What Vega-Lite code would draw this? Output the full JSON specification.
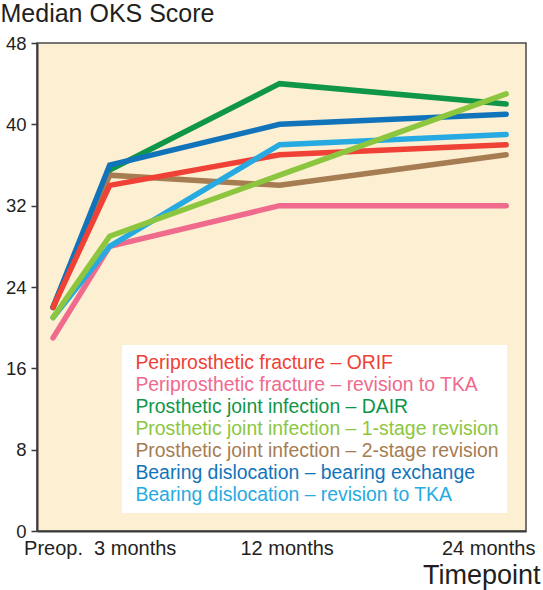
{
  "$schema": "https://vega.github.io/schema/vega-lite/v6.json",
  "width": 489,
  "height": 488,
  "autosize": {"type": "none"},
  "padding": {"left": 37, "top": 43, "right": 17, "bottom": 59},
  "background": "white",
  "config": {
    "font": "Liberation Sans",
    "view": {"fill": "#fdefd2", "stroke": "#4a4a4a", "strokeWidth": 1.5}
  },
  "data": {
    "values": [
      {"series": "Periprosthetic fracture – revision to TKA", "t": 0, "v": 19},
      {"series": "Periprosthetic fracture – revision to TKA", "t": 3, "v": 28},
      {"series": "Periprosthetic fracture – revision to TKA", "t": 12, "v": 32},
      {"series": "Periprosthetic fracture – revision to TKA", "t": 24, "v": 32},
      {"series": "Prosthetic joint infection – DAIR", "t": 0, "v": 22},
      {"series": "Prosthetic joint infection – DAIR", "t": 3, "v": 35.5},
      {"series": "Prosthetic joint infection – DAIR", "t": 12, "v": 44},
      {"series": "Prosthetic joint infection – DAIR", "t": 24, "v": 42},
      {"series": "Prosthetic joint infection – 2-stage revision", "t": 0, "v": 22},
      {"series": "Prosthetic joint infection – 2-stage revision", "t": 3, "v": 35},
      {"series": "Prosthetic joint infection – 2-stage revision", "t": 12, "v": 34},
      {"series": "Prosthetic joint infection – 2-stage revision", "t": 24, "v": 37},
      {"series": "Bearing dislocation – bearing exchange", "t": 0, "v": 22},
      {"series": "Bearing dislocation – bearing exchange", "t": 3, "v": 36},
      {"series": "Bearing dislocation – bearing exchange", "t": 12, "v": 40},
      {"series": "Bearing dislocation – bearing exchange", "t": 24, "v": 41},
      {"series": "Periprosthetic fracture – ORIF", "t": 0, "v": 22},
      {"series": "Periprosthetic fracture – ORIF", "t": 3, "v": 34},
      {"series": "Periprosthetic fracture – ORIF", "t": 12, "v": 37},
      {"series": "Periprosthetic fracture – ORIF", "t": 24, "v": 38},
      {"series": "Bearing dislocation – revision to TKA", "t": 0, "v": 21},
      {"series": "Bearing dislocation – revision to TKA", "t": 3, "v": 28},
      {"series": "Bearing dislocation – revision to TKA", "t": 12, "v": 38},
      {"series": "Bearing dislocation – revision to TKA", "t": 24, "v": 39},
      {"series": "Prosthetic joint infection – 1-stage revision", "t": 0, "v": 21},
      {"series": "Prosthetic joint infection – 1-stage revision", "t": 3, "v": 29},
      {"series": "Prosthetic joint infection – 1-stage revision", "t": 12, "v": 35},
      {"series": "Prosthetic joint infection – 1-stage revision", "t": 24, "v": 43}
    ]
  },
  "mark": {"type": "line", "strokeWidth": 5.5, "strokeCap": "round"},
  "encoding": {
    "x": {
      "field": "t",
      "type": "quantitative",
      "scale": {"domain": [-0.85, 25.05], "nice": false, "zero": false},
      "axis": {
        "values": [0, 3, 12, 24],
        "labelExpr": "datum.value == 0 ? 'Preop.' : datum.value + ' months'",
        "labelOffset": {"condition": [
          {"test": "datum.value == 3", "value": 25},
          {"test": "datum.value == 12", "value": 7},
          {"test": "datum.value == 24", "value": -18}
        ], "value": 0},
        "labelFlush": false,
        "labelOverlap": false,
        "labelFontSize": 20,
        "labelColor": "#231f20",
        "labelPadding": 7,
        "ticks": false,
        "grid": false,
        "domainColor": "#3a3a3a",
        "domainWidth": 2,
        "title": "Timepoint",
        "titleFontSize": 27,
        "titleFontWeight": "normal",
        "titleColor": "#231f20",
        "titleAlign": "right",
        "titleBaseline": "alphabetic",
        "titleX": 503,
        "titleY": 52
      }
    },
    "y": {
      "field": "v",
      "type": "quantitative",
      "scale": {"domain": [0, 48], "nice": false},
      "axis": {
        "values": [0, 8, 16, 24, 32, 40, 48],
        "grid": false,
        "tickSize": 6,
        "tickColor": "#3a3a3a",
        "tickWidth": 1.5,
        "domainColor": "#3a3a3a",
        "domainWidth": 2,
        "labelFontSize": 18.5,
        "labelColor": "#231f20",
        "labelPadding": 5,
        "title": "Median OKS Score",
        "titleFontSize": 25,
        "titleFontWeight": "normal",
        "titleColor": "#231f20",
        "titleAngle": 0,
        "titleAlign": "left",
        "titleBaseline": "top",
        "titleX": -37,
        "titleY": -42
      }
    },
    "color": {
      "field": "series",
      "type": "nominal",
      "scale": {
        "domain": [
          "Periprosthetic fracture – ORIF",
          "Periprosthetic fracture – revision to TKA",
          "Prosthetic joint infection – DAIR",
          "Prosthetic joint infection – 1-stage revision",
          "Prosthetic joint infection – 2-stage revision",
          "Bearing dislocation – bearing exchange",
          "Bearing dislocation – revision to TKA"
        ],
        "range": ["#ef4136", "#ef6a8c", "#0f9648", "#8cc63f", "#a67c52", "#1174bb", "#27aae1"]
      },
      "legend": {
        "orient": "none",
        "legendX": 85,
        "legendY": 302,
        "title": null,
        "fillColor": "white",
        "padding": 8,
        "symbolType": "circle",
        "symbolSize": 0.01,
        "symbolStrokeWidth": 0,
        "symbolOpacity": 0,
        "labelOffset": -14,
        "labelFontSize": 19.4,
        "labelLimit": 500,
        "rowPadding": 1,
        "encode": {
          "labels": {"update": {"fill": {"scale": "color", "field": "value"}}}
        }
      }
    }
  }
}
